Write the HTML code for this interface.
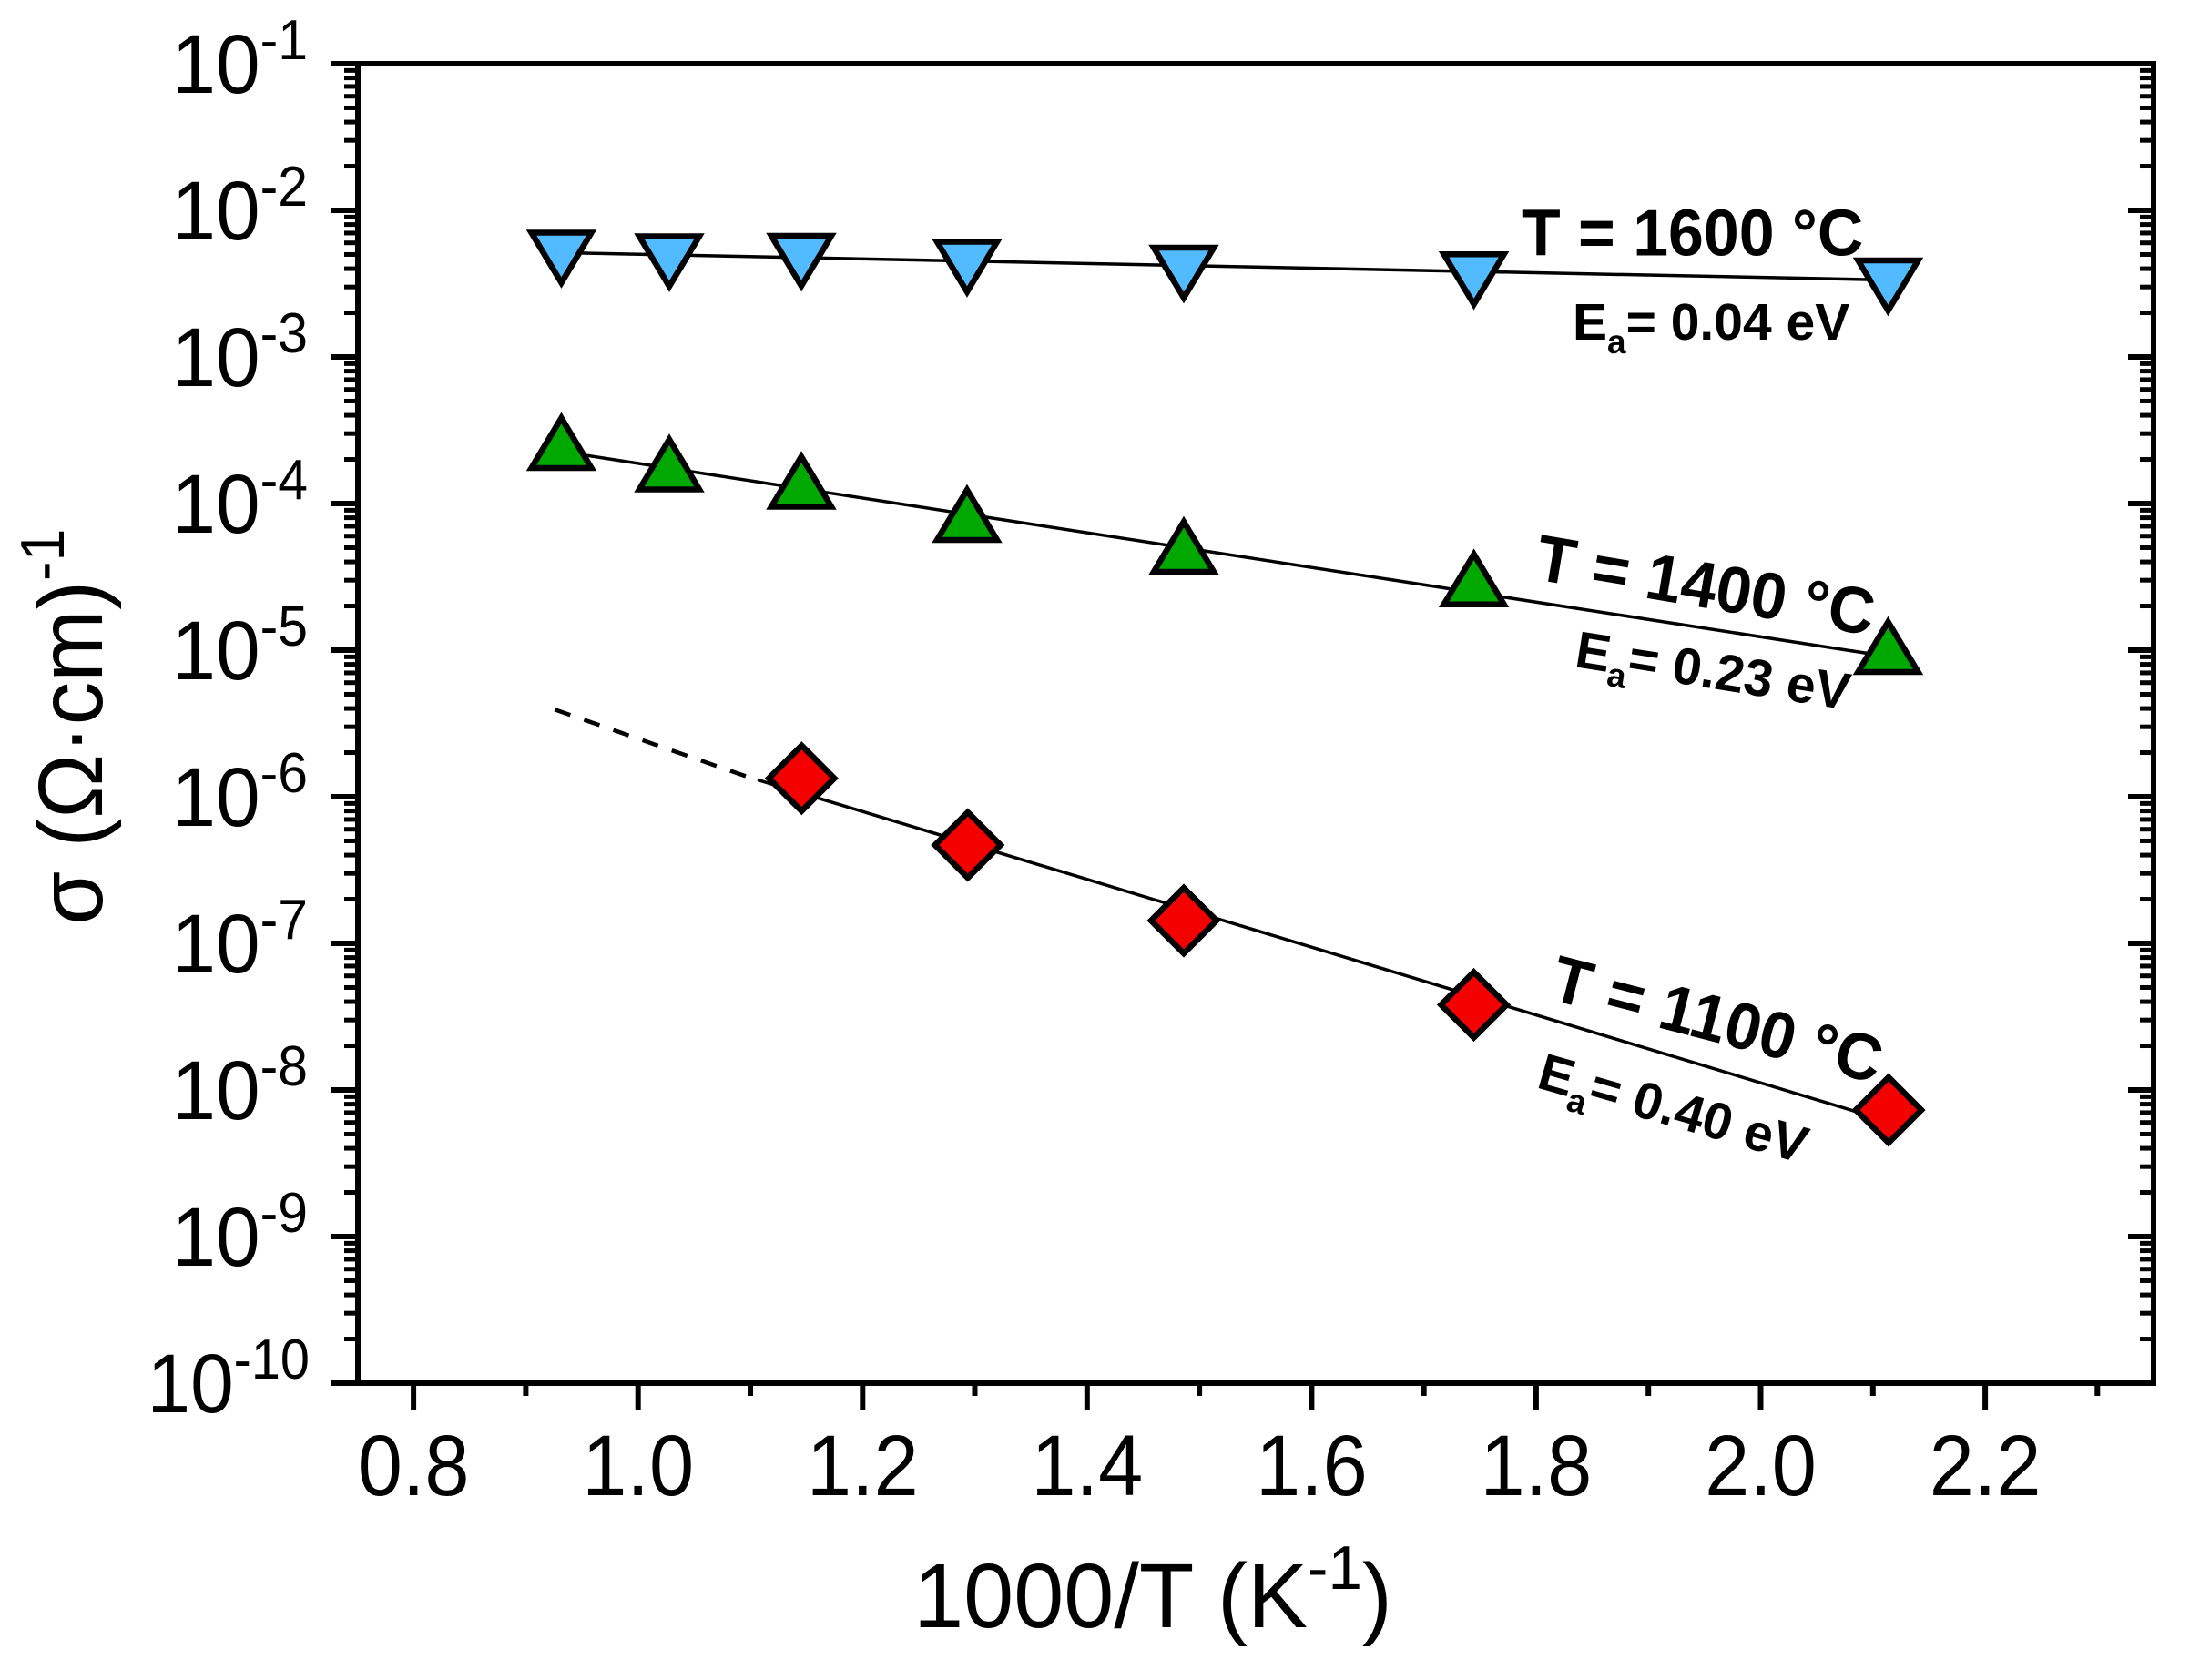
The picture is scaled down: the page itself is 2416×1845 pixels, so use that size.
<!DOCTYPE html>
<html>
<head>
<meta charset="utf-8">
<style>
  html, body { margin: 0; padding: 0; background: #ffffff; }
  svg { display: block; }
  text { font-family: "Liberation Sans", Arial, sans-serif; fill: #000; }
  .b { font-weight: bold; }
</style>
</head>
<body>
<svg width="2416" height="1845" viewBox="0 0 2416 1845" xmlns="http://www.w3.org/2000/svg">
  <rect x="0" y="0" width="2416" height="1845" fill="#ffffff"/>
  <defs>
    <g id="lm" stroke="#000" stroke-width="5">
      <line x1="378" y1="-48.47" x2="393" y2="-48.47"/>
      <line x1="378" y1="-76.82" x2="393" y2="-76.82"/>
      <line x1="378" y1="-96.93" x2="393" y2="-96.93"/>
      <line x1="378" y1="-112.53" x2="393" y2="-112.53"/>
      <line x1="378" y1="-125.28" x2="393" y2="-125.28"/>
      <line x1="378" y1="-136.06" x2="393" y2="-136.06"/>
      <line x1="378" y1="-145.40" x2="393" y2="-145.40"/>
      <line x1="378" y1="-153.63" x2="393" y2="-153.63"/>
    </g>
    <g id="rm" stroke="#000" stroke-width="5">
      <line x1="2350" y1="-48.47" x2="2365" y2="-48.47"/>
      <line x1="2350" y1="-76.82" x2="2365" y2="-76.82"/>
      <line x1="2350" y1="-96.93" x2="2365" y2="-96.93"/>
      <line x1="2350" y1="-112.53" x2="2365" y2="-112.53"/>
      <line x1="2350" y1="-125.28" x2="2365" y2="-125.28"/>
      <line x1="2350" y1="-136.06" x2="2365" y2="-136.06"/>
      <line x1="2350" y1="-145.40" x2="2365" y2="-145.40"/>
      <line x1="2350" y1="-153.63" x2="2365" y2="-153.63"/>
    </g>
  </defs>

  <!-- minor y ticks -->
  <use href="#lm" x="0" y="231"/><use href="#lm" x="0" y="392"/><use href="#lm" x="0" y="553"/>
  <use href="#lm" x="0" y="714"/><use href="#lm" x="0" y="875"/><use href="#lm" x="0" y="1036"/>
  <use href="#lm" x="0" y="1197"/><use href="#lm" x="0" y="1358"/><use href="#lm" x="0" y="1519"/>
  <use href="#rm" x="0" y="231"/><use href="#rm" x="0" y="392"/><use href="#rm" x="0" y="553"/>
  <use href="#rm" x="0" y="714"/><use href="#rm" x="0" y="875"/><use href="#rm" x="0" y="1036"/>
  <use href="#rm" x="0" y="1197"/><use href="#rm" x="0" y="1358"/><use href="#rm" x="0" y="1519"/>

  <!-- major y ticks -->
  <g stroke="#000" stroke-width="6">
    <line x1="363" y1="70" x2="393" y2="70"/>
    <line x1="363" y1="231" x2="393" y2="231"/>
    <line x1="363" y1="392" x2="393" y2="392"/>
    <line x1="363" y1="553" x2="393" y2="553"/>
    <line x1="363" y1="714" x2="393" y2="714"/>
    <line x1="363" y1="875" x2="393" y2="875"/>
    <line x1="363" y1="1036" x2="393" y2="1036"/>
    <line x1="363" y1="1197" x2="393" y2="1197"/>
    <line x1="363" y1="1358" x2="393" y2="1358"/>
    <line x1="363" y1="1519" x2="393" y2="1519"/>
    <line x1="2337" y1="231" x2="2365" y2="231"/>
    <line x1="2337" y1="392" x2="2365" y2="392"/>
    <line x1="2337" y1="553" x2="2365" y2="553"/>
    <line x1="2337" y1="714" x2="2365" y2="714"/>
    <line x1="2337" y1="875" x2="2365" y2="875"/>
    <line x1="2337" y1="1036" x2="2365" y2="1036"/>
    <line x1="2337" y1="1197" x2="2365" y2="1197"/>
    <line x1="2337" y1="1358" x2="2365" y2="1358"/>
  </g>

  <!-- x ticks -->
  <g stroke="#000" stroke-width="6">
    <line x1="454.1" y1="1519" x2="454.1" y2="1548"/>
    <line x1="700.7" y1="1519" x2="700.7" y2="1548"/>
    <line x1="947.3" y1="1519" x2="947.3" y2="1548"/>
    <line x1="1193.8" y1="1519" x2="1193.8" y2="1548"/>
    <line x1="1440.4" y1="1519" x2="1440.4" y2="1548"/>
    <line x1="1686.9" y1="1519" x2="1686.9" y2="1548"/>
    <line x1="1933.5" y1="1519" x2="1933.5" y2="1548"/>
    <line x1="2180.1" y1="1519" x2="2180.1" y2="1548"/>
    <line x1="577.4" y1="1519" x2="577.4" y2="1533"/>
    <line x1="824" y1="1519" x2="824" y2="1533"/>
    <line x1="1070.5" y1="1519" x2="1070.5" y2="1533"/>
    <line x1="1317.1" y1="1519" x2="1317.1" y2="1533"/>
    <line x1="1563.7" y1="1519" x2="1563.7" y2="1533"/>
    <line x1="1810.2" y1="1519" x2="1810.2" y2="1533"/>
    <line x1="2056.8" y1="1519" x2="2056.8" y2="1533"/>
    <line x1="2303.3" y1="1519" x2="2303.3" y2="1533"/>
  </g>

  <!-- frame -->
  <rect x="393" y="70" width="1972" height="1449" fill="none" stroke="#000" stroke-width="6"/>

  <!-- y tick labels -->
  <g font-size="92">
    <text transform="translate(338,102) scale(0.95,1)" text-anchor="end">10<tspan font-size="62" dy="-37">-1</tspan></text>
    <text transform="translate(338,263) scale(0.95,1)" text-anchor="end">10<tspan font-size="62" dy="-37">-2</tspan></text>
    <text transform="translate(338,424) scale(0.95,1)" text-anchor="end">10<tspan font-size="62" dy="-37">-3</tspan></text>
    <text transform="translate(338,585) scale(0.95,1)" text-anchor="end">10<tspan font-size="62" dy="-37">-4</tspan></text>
    <text transform="translate(338,746) scale(0.95,1)" text-anchor="end">10<tspan font-size="62" dy="-37">-5</tspan></text>
    <text transform="translate(338,907) scale(0.95,1)" text-anchor="end">10<tspan font-size="62" dy="-37">-6</tspan></text>
    <text transform="translate(338,1068) scale(0.95,1)" text-anchor="end">10<tspan font-size="62" dy="-37">-7</tspan></text>
    <text transform="translate(338,1229) scale(0.95,1)" text-anchor="end">10<tspan font-size="62" dy="-37">-8</tspan></text>
    <text transform="translate(338,1390) scale(0.95,1)" text-anchor="end">10<tspan font-size="62" dy="-37">-9</tspan></text>
    <text transform="translate(340,1551) scale(0.93,1)" text-anchor="end">10<tspan font-size="62" dy="-37">-10</tspan></text>
  </g>

  <!-- x tick labels -->
  <g font-size="95" text-anchor="middle">
    <text transform="translate(454.1,1642) scale(0.93,1)">0.8</text>
    <text transform="translate(700.7,1642) scale(0.93,1)">1.0</text>
    <text transform="translate(947.3,1642) scale(0.93,1)">1.2</text>
    <text transform="translate(1193.8,1642) scale(0.93,1)">1.4</text>
    <text transform="translate(1440.4,1642) scale(0.93,1)">1.6</text>
    <text transform="translate(1686.9,1642) scale(0.93,1)">1.8</text>
    <text transform="translate(1933.5,1642) scale(0.93,1)">2.0</text>
    <text transform="translate(2180.1,1642) scale(0.93,1)">2.2</text>
  </g>

  <!-- axis titles -->
  <text transform="translate(1266,1787) scale(0.99,1)" font-size="100" text-anchor="middle">1000/T (K<tspan font-size="68" dy="-42">-1</tspan><tspan dy="42">)</tspan></text>
  <text transform="translate(112,798) rotate(-90) scale(0.95,1)" font-size="100" text-anchor="middle">σ (Ω·cm)<tspan font-size="68" dy="-42">-1</tspan></text>

  <!-- fit lines -->
  <g stroke="#000" fill="none">
    <line x1="616" y1="277.5" x2="2073" y2="307.5" stroke-width="3.5"/>
    <line x1="616" y1="495.8" x2="2073" y2="720.9" stroke-width="3.5"/>
    <line x1="609.3" y1="779.3" x2="832" y2="857" stroke-width="4.5" stroke-dasharray="18 16"/>
    <line x1="832" y1="856.4" x2="2074" y2="1231.6" stroke-width="3.5"/>
  </g>

  <!-- blue inverted triangles -->
  <g fill="#52BBFF" stroke="#000" stroke-width="6.5" stroke-linejoin="miter">
    <path transform="translate(616.5,283.5)" d="M-33,-28 L33,-28 L0,27 Z"/>
    <path transform="translate(735,287.5)" d="M-33,-28 L33,-28 L0,27 Z"/>
    <path transform="translate(880,287)" d="M-33,-28 L33,-28 L0,27 Z"/>
    <path transform="translate(1062,293.5)" d="M-33,-28 L33,-28 L0,27 Z"/>
    <path transform="translate(1300,300)" d="M-33,-28 L33,-28 L0,27 Z"/>
    <path transform="translate(1618.6,307.2)" d="M-33,-28 L33,-28 L0,27 Z"/>
    <path transform="translate(2073.5,314)" d="M-33,-28 L33,-28 L0,27 Z"/>
  </g>

  <!-- green triangles -->
  <g fill="#00A800" stroke="#000" stroke-width="6.5" stroke-linejoin="miter">
    <path transform="translate(616.5,486)" d="M0,-27 L33,28 L-33,28 Z"/>
    <path transform="translate(735,509.5)" d="M0,-27 L33,28 L-33,28 Z"/>
    <path transform="translate(880,528.5)" d="M0,-27 L33,28 L-33,28 Z"/>
    <path transform="translate(1062,565)" d="M0,-27 L33,28 L-33,28 Z"/>
    <path transform="translate(1300,600)" d="M0,-27 L33,28 L-33,28 Z"/>
    <path transform="translate(1618.6,635.7)" d="M0,-27 L33,28 L-33,28 Z"/>
    <path transform="translate(2073.5,710)" d="M0,-27 L33,28 L-33,28 Z"/>
  </g>

  <!-- red diamonds -->
  <g fill="#F50000" stroke="#000" stroke-width="6.5" stroke-linejoin="miter">
    <path transform="translate(880.3,854.7)" d="M0,-36 L36,0 L0,36 L-36,0 Z"/>
    <path transform="translate(1062.8,928)" d="M0,-36 L36,0 L0,36 L-36,0 Z"/>
    <path transform="translate(1300,1011)" d="M0,-36 L36,0 L0,36 L-36,0 Z"/>
    <path transform="translate(1618.5,1103.5)" d="M0,-36 L36,0 L0,36 L-36,0 Z"/>
    <path transform="translate(2074,1219)" d="M0,-36 L36,0 L0,36 L-36,0 Z"/>
  </g>

  <!-- annotations -->
  <g class="b">
    <text transform="translate(1671,280.6) scale(0.97,1)" font-size="72">T = 1600 °C</text>
    <text transform="translate(1727,373)" font-size="57">E<tspan font-size="37" dy="15">a</tspan><tspan dy="-15">= 0.04 eV</tspan></text>

    <text transform="translate(1684,636) rotate(9.5) scale(0.97,1)" font-size="72">T = 1400 °C</text>
    <text transform="translate(1728,732) rotate(9)" font-size="57">E<tspan font-size="37" dy="15">a</tspan><tspan dy="-15">= 0.23 eV</tspan></text>

    <text transform="translate(1700,1097) rotate(14.5) scale(0.97,1)" font-size="72">T = 1100 °C</text>
    <text transform="translate(1686,1194) rotate(16)" font-size="57">E<tspan font-size="37" dy="15">a</tspan><tspan dy="-15">= 0.40 eV</tspan></text>
  </g>
</svg>
</body>
</html>
